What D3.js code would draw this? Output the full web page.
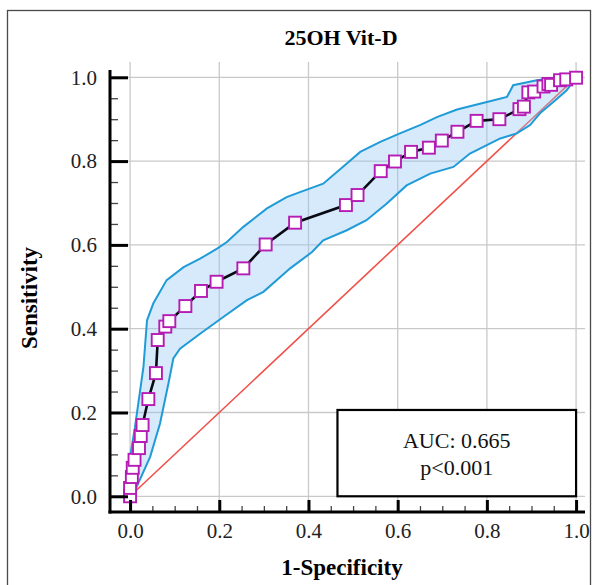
<!DOCTYPE html>
<html>
<head>
<meta charset="utf-8">
<script src="https://cdn.jsdelivr.net/npm/d3@7"></script>
<style>
  body { margin: 0; background: #fff; }
  svg text { font-family: "Liberation Serif", "Times New Roman", serif; }
</style>
</head>
<body>
<div id="chart-container"></div>
<script>
// ROC points (1-specificity, sensitivity)
const rocFpr  = [0, 0, 0.004, 0.006, 0.01, 0.02, 0.024, 0.028, 0.041, 0.058, 0.062, 0.079, 0.088, 0.124, 0.159, 0.194, 0.254, 0.304, 0.37, 0.484, 0.51, 0.562, 0.594, 0.63, 0.67, 0.699, 0.734, 0.777, 0.828, 0.873, 0.883, 0.893, 0.906, 0.927, 0.938, 0.944, 0.964, 0.978, 1.0];
const rocTpr  = [0, 0.02, 0.046, 0.068, 0.087, 0.115, 0.144, 0.17, 0.232, 0.294, 0.373, 0.405, 0.418, 0.454, 0.49, 0.512, 0.544, 0.601, 0.653, 0.695, 0.719, 0.776, 0.799, 0.822, 0.832, 0.849, 0.87, 0.896, 0.9, 0.924, 0.93, 0.964, 0.966, 0.978, 0.984, 0.982, 0.993, 0.995, 0.999];

// 95% confidence bounds
const upperFpr = [0, 0, 0.011, 0.03, 0.038, 0.052, 0.082, 0.12, 0.157, 0.195, 0.217, 0.254, 0.307, 0.351, 0.381, 0.433, 0.486, 0.516, 0.561, 0.605, 0.65, 0.688, 0.733, 0.8, 0.845, 0.859, 0.912, 0.964, 1.0];
const upperTpr = [0, 0.094, 0.165, 0.309, 0.42, 0.46, 0.516, 0.547, 0.567, 0.591, 0.607, 0.643, 0.687, 0.714, 0.726, 0.746, 0.794, 0.822, 0.846, 0.866, 0.886, 0.905, 0.923, 0.941, 0.953, 0.981, 0.993, 1.0, 1.0];
const lowerFpr = [0, 0.011, 0.045, 0.067, 0.086, 0.097, 0.112, 0.157, 0.209, 0.262, 0.299, 0.359, 0.408, 0.433, 0.486, 0.53, 0.575, 0.62, 0.673, 0.725, 0.762, 0.83, 0.867, 0.897, 0.919, 0.949, 0.979, 1.0];
const lowerTpr = [0, 0.014, 0.094, 0.173, 0.269, 0.329, 0.352, 0.388, 0.428, 0.468, 0.488, 0.544, 0.583, 0.611, 0.635, 0.659, 0.698, 0.742, 0.77, 0.786, 0.818, 0.854, 0.866, 0.886, 0.914, 0.941, 0.969, 1.0];

const majorTicks = [0, 0.2, 0.4, 0.6, 0.8, 1.0];
const minorTicks = [0.05, 0.1, 0.15, 0.25, 0.3, 0.35, 0.45, 0.5, 0.55, 0.65, 0.7, 0.75, 0.85, 0.9, 0.95];
const chartTitle = "25OH Vit-D";
const xTitle = "1-Specificity";
const yTitle = "Sensitivity";
const aucText = ["AUC: 0.665", "p<0.001"];

const width = 598, height = 585;
const plotLeft = 110, plotRight = 585, plotTop = 62, plotBottom = 512;

const svg = d3.select('#chart-container')
    .append('svg')
    .attr('width', width)
    .attr('height', height);

// outer frame
svg.append('rect')
    .attr('x', 7.5).attr('y', 10.5)
    .attr('width', 583).attr('height', 600)
    .attr('fill', 'none')
    .attr('stroke', '#4a4a4a')
    .attr('stroke-width', 1.3);

const x = d3.scaleLinear().domain([-0.045, 1.02]).range([plotLeft, plotRight]);
const y = d3.scaleLinear().domain([-0.0375, 1.0365]).range([plotBottom, plotTop]);

// grid
svg.append('g').selectAll('line')
    .data(majorTicks)
    .enter().append('line')
    .attr('x1', d => x(d)).attr('x2', d => x(d))
    .attr('y1', plotTop).attr('y2', plotBottom)
    .attr('stroke', '#c9c9c9').attr('stroke-width', 1.3);
svg.append('g').selectAll('line')
    .data(majorTicks)
    .enter().append('line')
    .attr('x1', plotLeft).attr('x2', plotRight)
    .attr('y1', d => y(d)).attr('y2', d => y(d))
    .attr('stroke', '#c9c9c9').attr('stroke-width', 1.3);

// reference diagonal
svg.append('line')
    .attr('x1', x(0)).attr('y1', y(0))
    .attr('x2', x(1)).attr('y2', y(1))
    .attr('stroke', '#f0504a')
    .attr('stroke-width', 1.6);

const upper = upperFpr.map((v, i) => [v, upperTpr[i]]);
const lower = lowerFpr.map((v, i) => [v, lowerTpr[i]]);
const roc = rocFpr.map((v, i) => [v, rocTpr[i]]);

const line = d3.line().x(d => x(d[0])).y(d => y(d[1]));

// confidence band fill
svg.append('path')
    .attr('d', line(upper.concat(lower.slice().reverse())) + 'Z')
    .attr('fill', 'rgba(150,200,245,0.38)')
    .attr('stroke', 'none');

[upper, lower].forEach(band => {
    svg.append('path')
        .datum(band)
        .attr('d', line)
        .attr('fill', 'none')
        .attr('stroke', '#1f9bd7')
        .attr('stroke-width', 2);
});

// ROC curve
svg.append('path')
    .datum(roc)
    .attr('d', line)
    .attr('fill', 'none')
    .attr('stroke', '#0a0a14')
    .attr('stroke-width', 2.6);

const s = 12;
svg.selectAll('.dot')
    .data(roc)
    .enter().append('rect')
    .attr('class', 'dot')
    .attr('x', d => x(d[0]) - s / 2)
    .attr('y', d => y(d[1]) - s / 2)
    .attr('width', s).attr('height', s)
    .attr('fill', '#fff')
    .attr('stroke', '#b41cb4')
    .attr('stroke-width', 1.9);

// axes
const yAxis = svg.append('g')
    .attr('transform', 'translate(' + plotLeft + ',0)')
    .call(d3.axisLeft(y).tickValues(majorTicks).tickSize(-18).tickPadding(13).tickFormat(d3.format('.1f')));
const yMinor = svg.append('g')
    .attr('transform', 'translate(' + plotLeft + ',0)')
    .call(d3.axisLeft(y).tickValues(minorTicks).tickSize(-8).tickFormat(''));
const xAxis = svg.append('g')
    .attr('transform', 'translate(0,' + plotBottom + ')')
    .call(d3.axisBottom(x).tickValues(majorTicks).tickSize(-12).tickPadding(11).tickFormat(d3.format('.1f')));
const xMinor = svg.append('g')
    .attr('transform', 'translate(0,' + plotBottom + ')')
    .call(d3.axisBottom(x).tickValues(minorTicks).tickSize(-6).tickFormat(''));

[yAxis, xAxis, yMinor, xMinor].forEach(g => g.selectAll('.domain').remove());
[yAxis, xAxis].forEach(g => {
    g.selectAll('.tick line').attr('stroke', '#000').attr('stroke-width', 3);
    g.selectAll('.tick text')
        .attr('fill', '#222')
        .style('font-size', '21px')
        .style('font-family', '"Liberation Serif", serif');
});
[yMinor, xMinor].forEach(g => {
    g.selectAll('.tick line').attr('stroke', '#444').attr('stroke-width', 1.3);
});

svg.append('line')
    .attr('x1', plotLeft).attr('x2', plotLeft)
    .attr('y1', 70).attr('y2', plotBottom + 1.5)
    .attr('stroke', '#000').attr('stroke-width', 3);
svg.append('line')
    .attr('x1', plotLeft - 1.5).attr('x2', plotRight)
    .attr('y1', plotBottom).attr('y2', plotBottom)
    .attr('stroke', '#000').attr('stroke-width', 3);

// AUC box
svg.append('rect')
    .attr('x', x(0.465)).attr('y', y(0.206))
    .attr('width', x(1.0) - x(0.465))
    .attr('height', y(0.0) - y(0.206))
    .attr('fill', '#fff')
    .attr('stroke', '#000')
    .attr('stroke-width', 2.2);
svg.selectAll('.auc')
    .data(aucText)
    .enter().append('text')
    .attr('x', (x(0.465) + x(1.0)) / 2)
    .attr('y', (d, i) => 448 + i * 27)
    .attr('text-anchor', 'middle')
    .style('font-size', '22px')
    .attr('fill', '#111')
    .text(d => d);

// titles
svg.append('text')
    .attr('x', 341).attr('y', 45)
    .attr('text-anchor', 'middle')
    .style('font-size', '22px').style('font-weight', 'bold')
    .text(chartTitle);
svg.append('text')
    .attr('x', 342).attr('y', 575)
    .attr('text-anchor', 'middle')
    .style('font-size', '23px').style('font-weight', 'bold')
    .text(xTitle);
svg.append('text')
    .attr('transform', 'translate(37,298) rotate(-90)')
    .attr('text-anchor', 'middle')
    .style('font-size', '23px').style('font-weight', 'bold')
    .text(yTitle);
</script>
</body>
</html>
